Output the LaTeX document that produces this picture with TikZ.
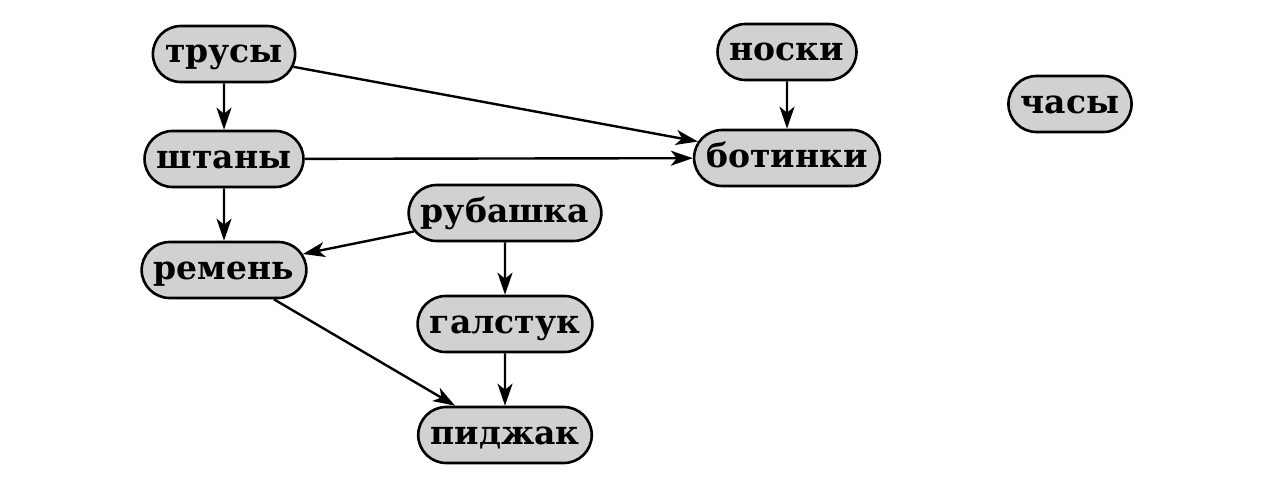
\documentclass[tikz,border=0pt]{standalone}
\usepackage{fontspec}
\setmainfont{DejaVu Serif}
\usetikzlibrary{shapes.misc,arrows.meta}
\tikzset{
  item/.style={rounded rectangle, draw=black, line width=2.6pt, fill=black!18,
    minimum height=56pt, inner xsep=9pt, inner ysep=0pt,
    font=\fontsize{33}{33}\selectfont\bfseries, text height=22pt, text depth=4pt},
  edge/.style={line width=2.4pt, -{Stealth[length=22pt,width=15pt,inset=6pt]}}
}
\begin{document}
\begin{tikzpicture}[x=1pt,y=-1pt]
\useasboundingbox (0,0) rectangle (1274,503);
\node[item] (trusy) at (224,54) {трусы};
\node[item] (noski) at (787,52) {носки};
\node[item] (chasy) at (1070,104) {часы};
\node[item] (shtany) at (224,159) {штаны};
\node[item] (botinki) at (787,158) {ботинки};
\node[item] (rubashka) at (505,213) {рубашка};
\node[item] (remen) at (224,270) {ремень};
\node[item] (galstuk) at (505,324) {галстук};
\node[item] (pidzhak) at (505,435) {пиджак};
\draw[edge] (trusy) -- (shtany);
\draw[edge] (trusy) -- (botinki);
\draw[edge] (noski) -- (botinki);
\draw[edge] (shtany) -- (botinki);
\draw[edge] (shtany) -- (remen);
\draw[edge] (rubashka) -- (remen);
\draw[edge] (rubashka) -- (galstuk);
\draw[edge] (remen) -- (pidzhak);
\draw[edge] (galstuk) -- (pidzhak);
\end{tikzpicture}
\end{document}
